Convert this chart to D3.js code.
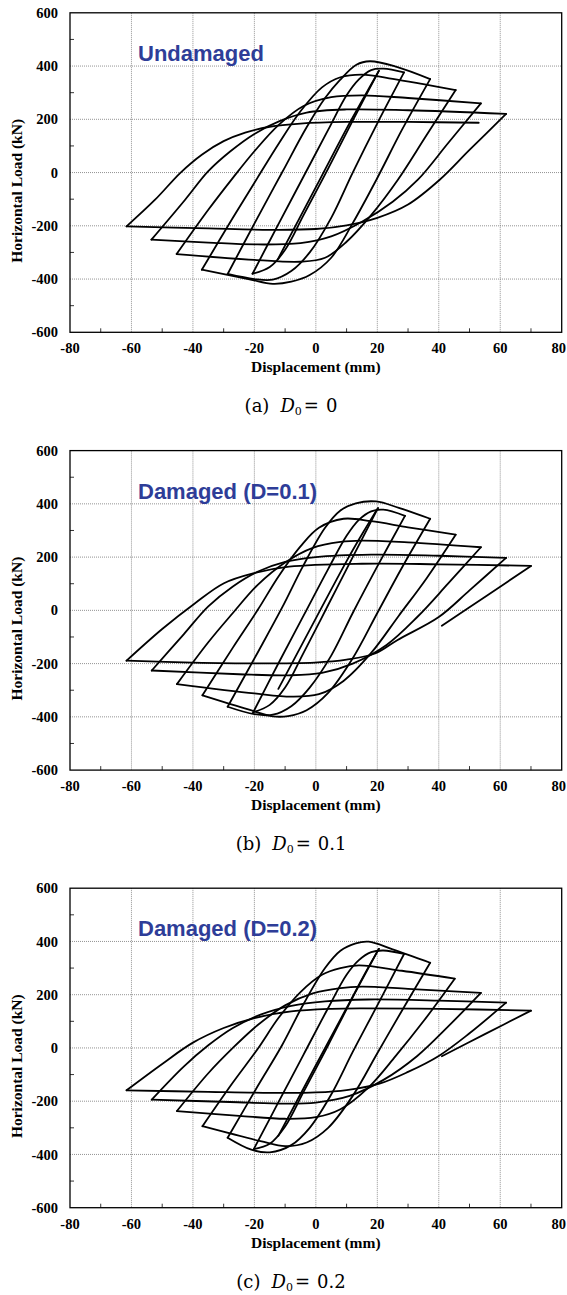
<!DOCTYPE html>
<html>
<head>
<meta charset="utf-8">
<script src="https://cdn.jsdelivr.net/npm/d3@7/dist/d3.min.js"></script>
<style>
  body { margin: 0; background: #fff; }
  .tick-label { font-family: "Liberation Serif", "Times New Roman", serif; font-weight: bold; font-size: 14.5px; }
  .axis-title { font-family: "Liberation Serif", "Times New Roman", serif; font-weight: bold; font-size: 15.5px; }
  .panel-title { font-family: "Liberation Sans", Arial, sans-serif; font-weight: bold; font-size: 22px; fill: #2e3d98; }
  .caption { font-family: "DejaVu Serif", serif; font-size: 18px; }
</style>
</head>
<body>
<svg id="chart" width="567" height="1295"></svg>
<script>
// tick values
const xTicks = [-80, -60, -40, -20, 0, 20, 40, 60, 80]
const yTicks = [-600, -400, -200, 0, 200, 400, 600]
const xMinor = [-70, -50, -30, -10, 10, 30, 50, 70]
const yMinor = [-500, -300, -100, 100, 300, 500]

const titles = ['Undamaged', 'Damaged (D=0.1)', 'Damaged (D=0.2)']
const captionLetters = ['(a)', '(b)', '(c)']
const captionValues = ['0', '0.1', '0.2']

// hysteresis branches [displacement mm, load kN]
const loopsUndamaged = [
  [[-12.3,-324],[0,-55],[10,165],[16,290],[20.5,382]],
  [[20.5,382],[12,195],[4,15],[-4,-160],[-10,-290],[-15,-355],[-20.6,-380]],
  [[-20.6,-380],[-12,-190],[-4,-15],[4,160],[10,290],[14,350],[18,385],[22,390],[28.7,376]],
  [[28.7,376],[20,185],[12,0],[5,-170],[-2,-300],[-8,-370],[-14,-402],[-20,-400],[-28.7,-381]],
  [[-28.7,-381],[-19,-170],[-11,0],[-3,170],[3,280],[7.8,347],[13.2,405],[17.6,418],[26.3,397],[37.2,351]],
  [[37.2,351],[28,160],[19.7,-27],[12,-190],[5,-320],[-2,-385],[-8,-410],[-14,-418],[-22,-400],[-37.1,-365]],
  [[-37.1,-365],[-27,-170],[-19,-20],[-12,110],[-5,230],[2,320],[8,358],[15,368],[25,352],[35,332],[45.5,310]],
  [[45.5,310],[36,140],[26.7,-27],[18,-160],[10,-260],[3,-320],[-5,-335],[-20,-328],[-45.3,-306]],
  [[-45.3,-306],[-35,-140],[-27,-20],[-20,80],[-12,180],[-4,250],[5,283],[15,290],[30,280],[53.7,260]],
  [[53.7,260],[43,110],[33.2,-27],[25,-110],[15,-185],[5,-240],[-5,-265],[-20,-270],[-35,-263],[-53.5,-252]],
  [[-53.5,-252],[-42.6,-103],[-35,5],[-28,78],[-20,145],[-12,192],[-3,225],[10,237],[30,234],[61.9,220]],
  [[61.9,220],[50,85],[40.3,-27],[30,-120],[20,-170],[10,-198],[0,-212],[-15,-215],[-35,-210],[-61.6,-202]],
  [[-61.6,-202],[-52.4,-103],[-44,0],[-37,68],[-30,118],[-23,150],[-15,172],[-5,184],[10,190],[30,190],[53,187]],
]

const loopsD01 = [
  [[-12.2,-295],[0,-30],[10,185],[15.5,295],[20.2,384]],
  [[20.2,384],[12,200],[4,20],[-4,-160],[-10,-290],[-15,-355],[-20.4,-383]],
  [[-20.4,-383],[-12,-195],[-4,-20],[4,155],[10,280],[14,340],[18,372],[22,378],[29,355]],
  [[29,355],[20,165],[12,-10],[5,-170],[-2,-290],[-8,-360],[-14,-392],[-20,-390],[-28.7,-362]],
  [[-28.7,-362],[-19,-160],[-11,10],[-4,170],[3,310],[8,375],[13,402],[19.6,409],[27,385],[37.2,344]],
  [[37.2,344],[28,160],[20,-10],[12,-180],[4,-310],[-3,-375],[-9,-397],[-14,-398],[-22,-372],[-36.9,-319]],
  [[-36.9,-319],[-27,-140],[-19,0],[-12,130],[-5,240],[1,310],[9,344],[18,335],[30,312],[45.5,284]],
  [[45.5,284],[36,120],[27,-20],[18,-160],[9,-265],[1,-315],[-8,-324],[-20,-312],[-45.2,-277]],
  [[-45.2,-277],[-35,-120],[-27,-10],[-19,95],[-10,180],[-1,235],[8,257],[15,262],[30,255],[53.7,237]],
  [[53.7,237],[43,100],[33,-25],[23,-130],[12,-200],[2,-235],[-9,-244],[-25,-240],[-53.4,-226]],
  [[-53.4,-226],[-43,-90],[-35,15],[-27,90],[-19,145],[-10,182],[0,200],[18,209],[40,205],[61.9,197]],
  [[61.9,197],[50,75],[40,-25],[26.6,-111],[19.5,-161],[10,-185],[-0.4,-196],[-20,-199],[-40,-196],[-61.6,-189]],
  [[-61.6,-189],[-50,-70],[-39.3,27],[-29.9,102],[-20.4,139],[-8.7,164],[15,175],[40,173],[70,167]],
  [[70,167],[55,50],[41,-58]],
]

const loopsD02 = [
  [[-12.2,-330],[0,-65],[10,150],[16,280],[20.5,372]],
  [[20.5,372],[12,190],[4,10],[-4,-165],[-10,-295],[-15,-360],[-20.2,-380]],
  [[-20.2,-380],[-12,-200],[-4,-25],[4,150],[10,275],[14,330],[18,360],[22,366],[28.7,353]],
  [[28.7,353],[20,160],[12,-15],[5,-175],[-2,-300],[-8,-365],[-15,-392],[-21,-382],[-28.7,-337]],
  [[-28.7,-337],[-19,-145],[-11,10],[-4,165],[3,300],[8,365],[13,393],[17.2,399],[25,370],[37.2,320]],
  [[37.2,320],[28,140],[20,-20],[12,-180],[4,-300],[-3,-355],[-10,-369],[-18,-350],[-36.9,-294]],
  [[-36.9,-294],[-27,-130],[-19,-5],[-12,115],[-5,210],[2,275],[8,300],[14,310],[28,290],[45.2,260]],
  [[45.2,260],[35,100],[26,-30],[17,-150],[8,-230],[0,-260],[-10,-266],[-25,-255],[-45.2,-237]],
  [[-45.2,-237],[-35,-95],[-27,0],[-19,85],[-10,160],[-1,205],[8,225],[15,230],[30,222],[53.7,207]],
  [[53.7,207],[43,80],[33,-30],[22,-120],[11,-180],[0,-205],[-10,-209],[-28,-203],[-53.4,-194]],
  [[-53.4,-194],[-43,-70],[-35,10],[-27,75],[-18,125],[-8,158],[3,175],[17,182],[40,178],[61.9,170]],
  [[61.9,170],[50,55],[40,-30],[30,-90],[20.7,-134],[10,-158],[0,-167],[-10,-169],[-35,-165],[-61.6,-159]],
  [[-61.6,-159],[-50,-60],[-40,20],[-30,75],[-20,112],[-8,137],[5,147],[15,149],[40,147],[70,140]],
  [[70,140],[55,52],[41,-31]],
]

const allLoops = [loopsUndamaged, loopsD01, loopsD02]

// layout
const plotLeft = 70
const plotRight = 561.7
const plotH = 319.5
const panelTops = [12.8, 450.6, 888.2]

const svg = d3.select('#chart')

const x = d3.scaleLinear().domain([-80, 80]).range([plotLeft, plotRight])
const y = d3.scaleLinear().domain([-600, 600]).range([plotH, 0])

const line = d3.line()
  .x(d => x(d[0]))
  .y(d => y(d[1]))
  .curve(d3.curveCatmullRom.alpha(0.5))

function drawPanel(i) {
  const g = svg.append('g').attr('transform', `translate(0,${panelTops[i]})`)

  // dotted grid
  g.append('g')
    .selectAll('line')
    .data(xTicks.slice(1, -1))
    .join('line')
      .attr('x1', d => x(d)).attr('x2', d => x(d))
      .attr('y1', 0).attr('y2', plotH)
      .attr('stroke', '#777').attr('stroke-width', 0.8)
      .attr('stroke-dasharray', '1,1')
  g.append('g')
    .selectAll('line')
    .data(yTicks.slice(1, -1))
    .join('line')
      .attr('x1', plotLeft).attr('x2', plotRight)
      .attr('y1', d => y(d)).attr('y2', d => y(d))
      .attr('stroke', '#777').attr('stroke-width', 0.8)
      .attr('stroke-dasharray', '1,1')

  // minor ticks, inside
  g.append('g')
    .selectAll('line')
    .data(xMinor)
    .join('line')
      .attr('x1', d => x(d)).attr('x2', d => x(d))
      .attr('y1', plotH).attr('y2', plotH - 4)
      .attr('stroke', '#000').attr('stroke-width', 0.8)
  g.append('g')
    .selectAll('line')
    .data(yMinor)
    .join('line')
      .attr('x1', plotLeft).attr('x2', plotLeft + 4)
      .attr('y1', d => y(d)).attr('y2', d => y(d))
      .attr('stroke', '#000').attr('stroke-width', 0.8)

  // frame
  g.append('rect')
    .attr('x', plotLeft).attr('y', 0)
    .attr('width', plotRight - plotLeft).attr('height', plotH)
    .attr('fill', 'none').attr('stroke', '#000').attr('stroke-width', 1.3)

  // curves
  g.append('g')
    .selectAll('path')
    .data(allLoops[i])
    .join('path')
      .attr('d', line)
      .attr('fill', 'none')
      .attr('stroke', '#000')
      .attr('stroke-width', 1.8)
      .attr('stroke-linejoin', 'round')
      .attr('stroke-linecap', 'round')

  // tick labels (last one pulled in so it stays on the page)
  const last = xTicks[xTicks.length - 1]
  g.append('g')
    .selectAll('text')
    .data(xTicks)
    .join('text')
      .attr('class', 'tick-label')
      .attr('x', d => d === last ? 566 : x(d))
      .attr('y', plotH + 21)
      .attr('text-anchor', d => d === last ? 'end' : 'middle')
      .text(d => d)
  g.append('g')
    .selectAll('text')
    .data(yTicks)
    .join('text')
      .attr('class', 'tick-label')
      .attr('x', plotLeft - 12)
      .attr('y', d => y(d))
      .attr('dy', '0.35em')
      .attr('text-anchor', 'end')
      .text(d => d)

  // axis titles
  g.append('text')
    .attr('class', 'axis-title')
    .attr('x', (plotLeft + plotRight) / 2)
    .attr('y', plotH + 40)
    .attr('text-anchor', 'middle')
    .text('Displacement (mm)')
  g.append('text')
    .attr('class', 'axis-title')
    .attr('transform', `translate(22,${178}) rotate(-90)`)
    .attr('text-anchor', 'middle')
    .text('Horizontal Load (kN)')

  // panel title
  g.append('text')
    .attr('class', 'panel-title')
    .attr('x', 138)
    .attr('y', 48)
    .text(titles[i])

  // caption
  const cap = g.append('text')
    .attr('class', 'caption')
    .attr('x', 291)
    .attr('y', 399.5)
    .attr('text-anchor', 'middle')
  cap.append('tspan').text(captionLetters[i])
  cap.append('tspan').attr('dx', 11).attr('font-style', 'italic').text('D')
  cap.append('tspan').attr('font-size', 11).attr('dy', 3).text('0')
  cap.append('tspan').attr('dy', -3).attr('dx', 2).text('=')
  cap.append('tspan').attr('dx', 7).text(captionValues[i])
}

[0, 1, 2].forEach(drawPanel)
</script>
</body>
</html>
